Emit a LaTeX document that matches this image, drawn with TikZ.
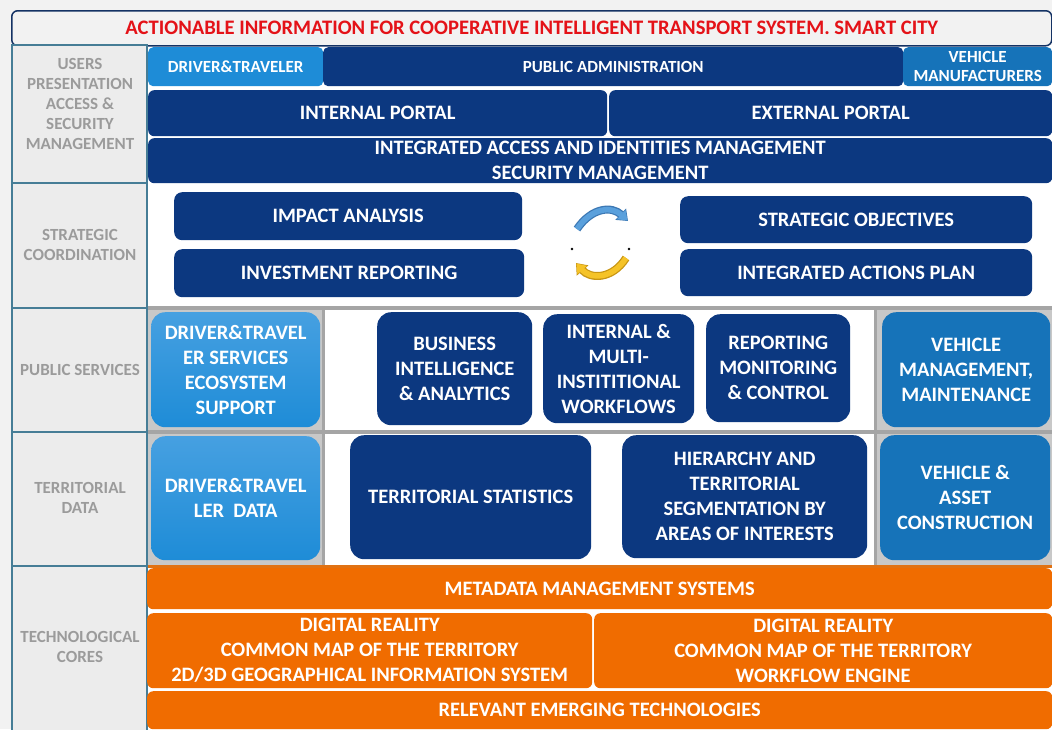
\documentclass[tikz,border=0pt]{standalone}
\usepackage{fontspec}
\setmainfont{Carlito}
\usetikzlibrary{arrows.meta}
\definecolor{navy}{RGB}{12,56,128}
\definecolor{lblue}{RGB}{30,140,215}
\definecolor{lbluetop}{RGB}{70,160,225}
\definecolor{vblue}{RGB}{22,115,185}
\definecolor{orng}{RGB}{240,108,0}
\definecolor{sidefill}{RGB}{236,236,236}
\definecolor{sidetext}{RGB}{155,155,155}
\definecolor{sideline}{RGB}{70,125,150}
\definecolor{cellgray}{RGB}{200,200,200}
\definecolor{sepgray}{RGB}{165,165,165}
\definecolor{titlered}{RGB}{228,18,24}
\definecolor{titleline}{RGB}{20,50,100}
\definecolor{bgray}{RGB}{242,242,242}
\definecolor{arrblue}{RGB}{90,160,220}
\definecolor{arrblueline}{RGB}{60,120,180}
\definecolor{arryel}{RGB}{245,195,40}
\definecolor{arryelline}{RGB}{200,150,20}
\tikzset{
  bx/.style={anchor=north west, inner sep=0pt, align=center, text=white,
    font=\bfseries\fontsize{20.5}{25}\selectfont, rounded corners=8pt},
  nv/.style={bx, fill=navy},
  lb/.style={bx, top color=lbluetop, bottom color=lblue, rounded corners=14pt},
  vb/.style={bx, fill=vblue, rounded corners=14pt},
  og/.style={bx, fill=orng, rounded corners=6pt},
  sm/.style={font=\bfseries\fontsize{17}{19}\selectfont},
  side/.style={text=sidetext, align=center, font=\bfseries\fontsize{17}{20}\selectfont},
  sidecell/.style={draw=sideline, line width=1.5pt, fill=sidefill},
}
\begin{document}
\begin{tikzpicture}[x=1pt,y=-1pt]
\useasboundingbox (0,0) rectangle (1052,729);
\fill[bgray] (0,0) rectangle (1052,729);
\fill[white] (148,45) rectangle (1052,729);

% title
\node[anchor=north west, minimum width=1040, minimum height=35, inner sep=0pt,
  draw=titleline, line width=1.5pt, fill=bgray, rounded corners=6pt,
  text=titlered, font=\bfseries\fontsize{20.6}{22}\selectfont] (title) at (11,10)
  {ACTIONABLE INFORMATION FOR COOPERATIVE INTELLIGENT TRANSPORT SYSTEM. SMART CITY};

% left column
\draw[sidecell] (12,45) rectangle (147,183);
\draw[sidecell] (12,183) rectangle (147,308);
\draw[sidecell] (12,308) rectangle (147,432);
\draw[sidecell] (12,432) rectangle (147,566);
\draw[sidecell] (12,566) rectangle (147,735);
\node[side] (lusers) at (80,104) {USERS\\PRESENTATION\\ACCESS \&\\SECURITY\\MANAGEMENT};
\node[side] (lstrat) at (80,245) {STRATEGIC\\COORDINATION};
\node[side] (lpub) at (80,370) {PUBLIC SERVICES};
\node[side] (lterr) at (80,498) {TERRITORIAL\\DATA};
\node[side] (ltech) at (80,647) {TECHNOLOGICAL\\CORES};

% row 1
\node[bx, sm, fill=lblue, rounded corners=5pt, minimum width=175, minimum height=39] (drv) at (148,47) {DRIVER\&TRAVELER};
\node[nv, sm, rounded corners=5pt, minimum width=580, minimum height=39] (pubadm) at (323,47) {PUBLIC ADMINISTRATION};
\node[bx, sm, fill=vblue, rounded corners=5pt, minimum width=149, minimum height=39] (vehman) at (903,47) {VEHICLE\\MANUFACTURERS};
\node[nv, rounded corners=6pt, minimum width=459, minimum height=46] (intp) at (148,90) {INTERNAL PORTAL};
\node[nv, rounded corners=6pt, minimum width=443, minimum height=46] (extp) at (609,90) {EXTERNAL PORTAL};
\node[nv, rounded corners=6pt, minimum width=904, minimum height=45] (iam) at (148,138) {INTEGRATED ACCESS AND IDENTITIES MANAGEMENT\\SECURITY MANAGEMENT};

% row 2
\node[nv, minimum width=348, minimum height=48] (impact) at (174,192) {IMPACT ANALYSIS};
\node[nv, minimum width=350, minimum height=48] (invest) at (174,249) {INVESTMENT REPORTING};
\node[nv, minimum width=352, minimum height=47] (stratobj) at (680,196) {STRATEGIC OBJECTIVES};
\node[nv, minimum width=352, minimum height=47] (iap) at (680,249) {INTEGRATED ACTIONS PLAN};
\coordinate (ba) at (577,229);
\coordinate (bb) at (628,221);
\coordinate (ya) at (626,258);
\coordinate (yb) at (576,263);
\draw[line width=8pt, arrblueline, -{Triangle[length=10pt,width=15pt]}] (ba) .. controls (592,207) and (612,206) .. (bb);
\draw[line width=5.5pt, arrblue, -{Triangle[length=8.5pt,width=12pt]}, shorten >=0.8pt] (ba) .. controls (592,207) and (612,206) .. (bb);
\draw[line width=8pt, arryelline, -{Triangle[length=10pt,width=15pt]}] (ya) .. controls (612,280) and (590,279) .. (yb);
\draw[line width=5.5pt, arryel, -{Triangle[length=8.5pt,width=12pt]}, shorten >=0.8pt] (ya) .. controls (612,280) and (590,279) .. (yb);
\fill (572,249) circle (1.3);
\fill (629,249) circle (1.3);

% separators
\fill[sepgray] (148,306) rectangle (1052,310);
\fill[cellgray] (148,310) rectangle (323,566);
\fill[cellgray] (876,310) rectangle (1052,566);
\fill[sepgray] (148,430) rectangle (1052,434);
\fill[sepgray] (322,310) rectangle (325,566);
\fill[sepgray] (874,310) rectangle (877,566);
\fill[orng!70!brown] (148,565) rectangle (1052,568);

% row 3
\node[lb, minimum width=169, minimum height=115] (drvsvc) at (151,312) {DRIVER\&TRAVEL\\ER SERVICES\\ECOSYSTEM\\SUPPORT};
\node[nv, rounded corners=14pt, minimum width=155, minimum height=113] (bia) at (377,312) {BUSINESS\\INTELLIGENCE\\\& ANALYTICS};
\node[nv, rounded corners=14pt, minimum width=151, minimum height=109] (imw) at (543,314) {INTERNAL \&\\MULTI-\\INSTITITIONAL\\WORKFLOWS};
\node[nv, rounded corners=14pt, minimum width=144, minimum height=108] (rmc) at (706,314) {REPORTING\\MONITORING\\\& CONTROL};
\node[vb, minimum width=168, minimum height=115] (vmm) at (882,312) {VEHICLE\\MANAGEMENT,\\MAINTENANCE};

% row 4
\node[lb, minimum width=169, minimum height=124] (drvdata) at (151,436) {DRIVER\&TRAVEL\\LER\ \ DATA};
\node[nv, rounded corners=14pt, minimum width=241, minimum height=124] (tstat) at (350,435) {TERRITORIAL STATISTICS};
\node[nv, rounded corners=14pt, minimum width=245, minimum height=123] (hier) at (622,435) {HIERARCHY AND\\TERRITORIAL\\SEGMENTATION BY\\AREAS OF INTERESTS};
\node[vb, minimum width=170, minimum height=125] (vac) at (880,435) {VEHICLE \&\\ASSET\\CONSTRUCTION};

% row 5
\node[og, minimum width=905, minimum height=41] (meta) at (147,568) {METADATA MANAGEMENT SYSTEMS};
\node[og, minimum width=445, minimum height=75] (dr1) at (147,613) {DIGITAL REALITY\\COMMON MAP OF THE TERRITORY\\2D/3D GEOGRAPHICAL INFORMATION SYSTEM};
\node[og, minimum width=458, minimum height=75] (dr2) at (594,613) {DIGITAL REALITY\\COMMON MAP OF THE TERRITORY\\WORKFLOW ENGINE};
\node[og, minimum width=905, minimum height=38] (rel) at (147,691) {RELEVANT EMERGING TECHNOLOGIES};
\end{tikzpicture}
\end{document}
